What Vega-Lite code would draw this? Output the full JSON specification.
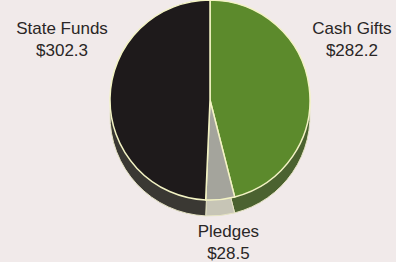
{
  "$schema": "https://vega.github.io/schema/vega-lite/v6.json",
  "width": 372,
  "height": 200,
  "autosize": "none",
  "padding": {"left": 24, "top": 0, "right": 0, "bottom": 62},
  "background": "#f1eaea",
  "config": {"view": {"stroke": null}},
  "data": {
    "values": [
      {"category": "Cash Gifts", "value": 282.2},
      {"category": "Pledges", "value": 28.5},
      {"category": "State Funds", "value": 302.3}
    ]
  },
  "transform": [
    {"calculate": "[datum.category, '$' + format(datum.value, '.1f')]", "as": "label"},
    {"stack": "value", "groupby": [], "sort": [{"field": "category"}], "as": ["v0", "v1"]},
    {"calculate": "(datum.v0 + datum.v1) / 2", "as": "mid"}
  ],
  "layer": [
    {
      "mark": {"type": "arc", "radius": 100, "yOffset": 16, "stroke": "#e6e4c4", "strokeWidth": 1},
      "encoding": {
        "theta": {"field": "value", "type": "quantitative", "stack": true},
        "order": {"field": "category"},
        "color": {
          "field": "category", "type": "nominal",
          "scale": {"domain": ["Cash Gifts", "Pledges", "State Funds"], "range": ["#4b6230", "#c7c5b6", "#3a3833"]},
          "legend": null
        }
      }
    },
    {
      "mark": {"type": "arc", "radius": 100, "stroke": "#f3f3c4", "strokeWidth": 1.5},
      "encoding": {
        "theta": {"field": "value", "type": "quantitative", "stack": true},
        "order": {"field": "category"},
        "color": {
          "field": "category", "type": "nominal",
          "scale": {"domain": ["Cash Gifts", "Pledges", "State Funds"], "range": ["#5c8a2c", "#a4a49c", "#1e1a1b"]},
          "legend": null
        }
      }
    },
    {
      "transform": [{"filter": "datum.category === 'State Funds'"}],
      "mark": {"type": "text", "radius": 140, "dx": -8, "dy": -68, "font": "Liberation Sans", "fontSize": 17, "lineHeight": 22, "fill": "#2a2626", "align": "center", "baseline": "middle"},
      "encoding": {"theta": {"field": "mid", "type": "quantitative"}, "text": {"field": "label"}}
    },
    {
      "transform": [{"filter": "datum.category === 'Cash Gifts'"}],
      "mark": {"type": "text", "radius": 140, "dx": 3, "dy": -54, "font": "Liberation Sans", "fontSize": 17, "lineHeight": 22, "fill": "#2a2626", "align": "center", "baseline": "middle"},
      "encoding": {"theta": {"field": "mid", "type": "quantitative"}, "text": {"field": "label"}}
    },
    {
      "transform": [{"filter": "datum.category === 'Pledges'"}],
      "mark": {"type": "text", "radius": 140, "dx": 4, "dy": -7, "font": "Liberation Sans", "fontSize": 17, "lineHeight": 22, "fill": "#2a2626", "align": "center", "baseline": "middle"},
      "encoding": {"theta": {"field": "mid", "type": "quantitative"}, "text": {"field": "label"}}
    }
  ],
  "resolve": {"scale": {"color": "independent"}}
}
